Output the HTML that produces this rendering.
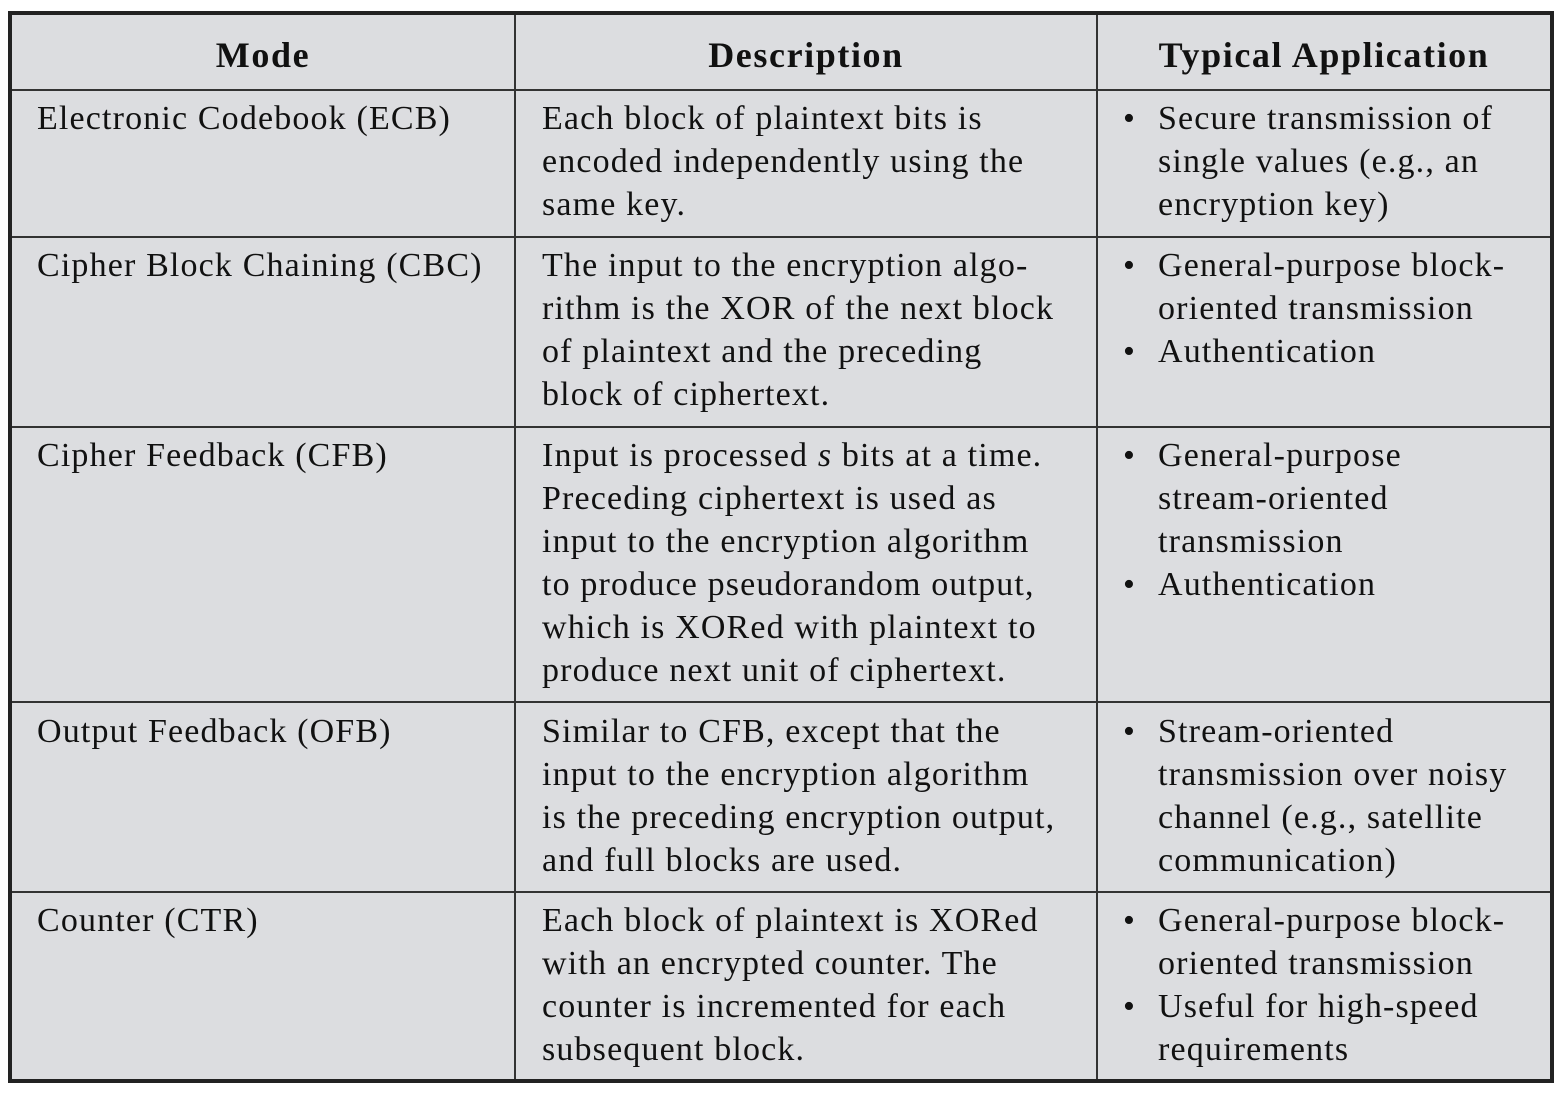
<!DOCTYPE html>
<html><head><meta charset="utf-8"><style>
body{margin:0;width:1563px;height:1093px;background:#fff;position:relative;overflow:hidden;font-family:"Liberation Serif",serif;color:#111;}
.tbl{position:absolute;left:8px;top:11px;width:1538px;height:1064px;border:4px solid #222;background:#dcdde0;}
.h{position:absolute;left:0;width:1538px;height:2px;background:#333;}
.v{position:absolute;top:0;width:2px;height:1064px;background:#333;}
.c{position:absolute;font-size:34px;letter-spacing:1.15px;line-height:43px;white-space:nowrap;}
.hd{position:absolute;font-size:36px;letter-spacing:1.6px;font-weight:bold;line-height:43px;text-align:center;top:19px;}
.b{position:absolute;font-size:34px;line-height:43px;}
</style></head><body>
<div class="tbl">
<div class="h" style="top:74px"></div>
<div class="h" style="top:221px"></div>
<div class="h" style="top:411px"></div>
<div class="h" style="top:686px"></div>
<div class="h" style="top:876px"></div>
<div class="v" style="left:502px"></div>
<div class="v" style="left:1084px"></div>
<div class="hd" style="left:0;width:502px">Mode</div>
<div class="hd" style="left:504px;width:580px">Description</div>
<div class="hd" style="left:1086px;width:452px">Typical Application</div>
</div>

<div class="c" style="left:37px;top:97px">Electronic Codebook (ECB)</div>
<div class="c" style="left:542px;top:97px">Each block of plaintext bits is<br>encoded independently using the<br>same key.</div>
<div class="c" style="left:1158px;top:97px">Secure transmission of<br>single values (e.g., an<br>encryption key)</div>
<div class="b" style="left:1123px;top:97px">•</div>

<div class="c" style="left:37px;top:244px">Cipher Block Chaining (CBC)</div>
<div class="c" style="left:542px;top:244px">The input to the encryption algo-<br>rithm is the XOR of the next block<br>of plaintext and the preceding<br>block of ciphertext.</div>
<div class="c" style="left:1158px;top:244px">General-purpose block-<br>oriented transmission<br>Authentication</div>
<div class="b" style="left:1123px;top:244px">•</div>
<div class="b" style="left:1123px;top:330px">•</div>

<div class="c" style="left:37px;top:434px">Cipher Feedback (CFB)</div>
<div class="c" style="left:542px;top:434px">Input is processed <i>s</i> bits at a time.<br>Preceding ciphertext is used as<br>input to the encryption algorithm<br>to produce pseudorandom output,<br>which is XORed with plaintext to<br>produce next unit of ciphertext.</div>
<div class="c" style="left:1158px;top:434px">General-purpose<br>stream-oriented<br>transmission<br>Authentication</div>
<div class="b" style="left:1123px;top:434px">•</div>
<div class="b" style="left:1123px;top:563px">•</div>

<div class="c" style="left:37px;top:710px">Output Feedback (OFB)</div>
<div class="c" style="left:542px;top:710px">Similar to CFB, except that the<br>input to the encryption algorithm<br>is the preceding encryption output,<br>and full blocks are used.</div>
<div class="c" style="left:1158px;top:710px">Stream-oriented<br>transmission over noisy<br>channel (e.g., satellite<br>communication)</div>
<div class="b" style="left:1123px;top:710px">•</div>

<div class="c" style="left:37px;top:899px">Counter (CTR)</div>
<div class="c" style="left:542px;top:899px">Each block of plaintext is XORed<br>with an encrypted counter. The<br>counter is incremented for each<br>subsequent block.</div>
<div class="c" style="left:1158px;top:899px">General-purpose block-<br>oriented transmission<br>Useful for high-speed<br>requirements</div>
<div class="b" style="left:1123px;top:899px">•</div>
<div class="b" style="left:1123px;top:985px">•</div>
</body></html>
